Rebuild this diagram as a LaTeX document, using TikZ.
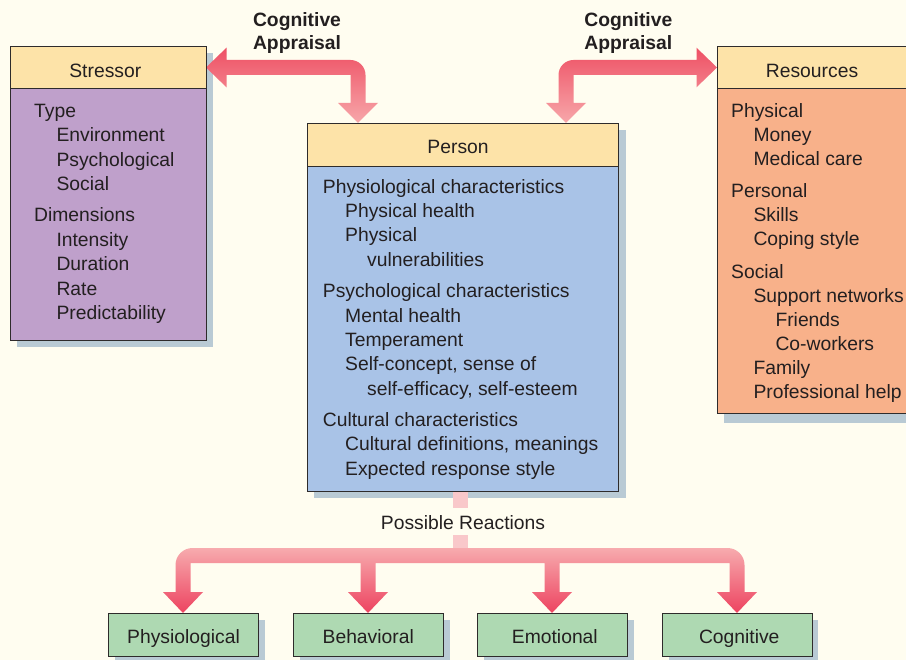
\documentclass[tikz,border=0pt]{standalone}
\usepackage{fontspec}
\setmainfont{Liberation Sans}
\usetikzlibrary{calc}
\definecolor{bg}{HTML}{FFFDF0}
\definecolor{bord}{HTML}{2E2B2B}
\definecolor{txt}{HTML}{231F20}
\definecolor{headc}{HTML}{FDE3A8}
\definecolor{purp}{HTML}{BFA0CB}
\definecolor{bluec}{HTML}{A9C3E7}
\definecolor{orangec}{HTML}{F8B18A}
\definecolor{greenc}{HTML}{AED9B2}
\definecolor{shadowc}{HTML}{B9CAD4}
\definecolor{arrA}{HTML}{EE5064}
\definecolor{arrB}{HTML}{F7A7AA}
\definecolor{arrC}{HTML}{F7ABAE}
\definecolor{arrD}{HTML}{ED4360}
\definecolor{stubc}{HTML}{F9C8CA}
\newcommand{\ia}{\hspace*{22.3pt}}
\newcommand{\ib}{\hspace*{44.3pt}}
\begin{document}
\begin{tikzpicture}[x=1pt,y=-1pt,
  box/.style={draw=bord, line width=1.1pt, rectangle, inner sep=0pt, anchor=north west, text=txt,
    font=\fontsize{19.3}{23}\selectfont},
  headbox/.style={box, fill=headc},
  reactbox/.style={box, fill=greenc, minimum width=150pt, minimum height=42.4pt, text height=17.4pt, text depth=1pt},
  bodytext/.style={anchor=base west, inner sep=0pt, text=txt},
  apptext/.style={anchor=base, inner sep=0pt, text=txt, font=\fontsize{19.3}{23}\selectfont\bfseries},
  shadowbox/.style={fill=shadowc}
]
\useasboundingbox (0,0) rectangle (906,660);
\clip (0,0) rectangle (906,660);
\fill[bg] (0,0) rectangle (906,660);

% shadows
\fill[shadowbox] (16.5,52.7) rectangle (213,347.3);
\fill[shadowbox] (314.3,130.3) rectangle (626,498);
\fill[shadowbox] (724.3,52.7) rectangle (925,423.3);
\fill[shadowbox] (115,620.3) rectangle (265,665);
\fill[shadowbox] (299.7,620.3) rectangle (449.7,665);
\fill[shadowbox] (484.3,620.3) rectangle (633.7,665);
\fill[shadowbox] (668.7,620.3) rectangle (818,665);

% top arrows
\shade[top color=arrA, bottom color=arrB]
  (206,67.5) -- (226.5,47.7) -- (226.5,60) -- (350.5,60)
  .. controls (358.8,60) and (365.5,66.7) .. (365.5,75)
  -- (365.5,103) -- (378,103) -- (358,122.8) -- (338,103) -- (350.5,103)
  -- (350.5,75) -- (226.5,75) -- (226.5,87.3) -- cycle;
\shade[top color=arrA, bottom color=arrB]
  (717,67.5) -- (696.5,47.7) -- (696.5,60) -- (573.5,60)
  .. controls (565.2,60) and (558.5,66.7) .. (558.5,75)
  -- (558.5,103) -- (546,103) -- (566,122.8) -- (586,103) -- (573.5,103)
  -- (573.5,75) -- (696.5,75) -- (696.5,87.3) -- cycle;

% bottom arrows
\fill[stubc] (453,490) rectangle (468,549);
\shade[top color=arrC, bottom color=arrD]
  (175.5,592) -- (175.5,565)
  .. controls (175.5,555.6) and (183.1,548) .. (192.5,548)
  -- (727.5,548)
  .. controls (736.9,548) and (744.5,555.6) .. (744.5,565)
  -- (744.5,592) -- (757,592) -- (737,613) -- (717,592) -- (729.5,592)
  -- (729.5,563) -- (559.5,563) -- (559.5,592) -- (572,592) -- (552,613) -- (532,592) -- (544.5,592)
  -- (544.5,563) -- (375.5,563) -- (375.5,592) -- (388,592) -- (368,613) -- (348,592) -- (360.5,592)
  -- (360.5,563) -- (190.5,563) -- (190.5,592) -- (203,592) -- (183,613) -- (163,592) -- cycle;

% boxes
\node[box, fill=purp, minimum width=196.5pt, minimum height=252.3pt] (sB) at (9.5,87.7) {};
\node[headbox, minimum width=196.5pt, minimum height=42pt, text height=21.6pt, text depth=1pt] (sH) at (9.5,45.7) {Stressor\hspace*{6pt}};
\node[box, fill=bluec, minimum width=311pt, minimum height=325pt] (pB) at (307.3,165.7) {};
\node[headbox, minimum width=311pt, minimum height=42.4pt, text height=17.4pt, text depth=1pt] (pH) at (307.3,123.3) {Person\hspace*{10.6pt}};
\node[box, fill=orangec, minimum width=200pt, minimum height=325.6pt] (rB) at (717.3,87.7) {};
\node[headbox, minimum width=200pt, minimum height=42pt, text height=21pt, text depth=1pt] (rH) at (717.3,45.7) {Resources\hspace*{11.6pt}};

\node[reactbox] (r1) at (108,613.3) {Physiological};
\node[reactbox] (r2) at (292.7,613.3) {Behavioral};
\node[reactbox] (r3) at (477.3,613.3) {\hspace*{4pt}Emotional};
\node[reactbox] (r4) at (661.7,613.3) {\hspace*{4pt}Cognitive};

% body texts
\node[bodytext] (sT) at (34,117.3) {\parbox[t]{170pt}{\fontsize{19.3}{24.45}\selectfont\raggedright
Type\\
\ia Environment\\
\ia Psychological\\
\ia Social\\[6.6pt]
Dimensions\\
\ia Intensity\\
\ia Duration\\
\ia Rate\\
\ia Predictability}};

\node[bodytext] (pT) at (322.7,193.3) {\parbox[t]{290pt}{\fontsize{19.3}{24.35}\selectfont\raggedright
Physiological characteristics\\
\ia Physical health\\
\ia Physical\\
\ib vulnerabilities\\[7.1pt]
Psychological characteristics\\
\ia Mental health\\
\ia Temperament\\
\ia Self-concept, sense of\\
\ib self-efficacy, self-esteem\\[6.8pt]
Cultural characteristics\\
\ia Cultural definitions, meanings\\
\ia Expected response style}};

\node[bodytext] (rT) at (731,117.3) {\parbox[t]{190pt}{\fontsize{19.3}{24}\selectfont\raggedright
Physical\\
\ia Money\\
\ia Medical care\\[8.4pt]
Personal\\
\ia Skills\\
\ia Coping style\\[8.7pt]
Social\\
\ia Support networks\\
\ib Friends\\
\ib Co-workers\\
\ia Family\\
\ia Professional help}};

% appraisal labels
\node[apptext] (ca1) at (297,26.7) {Cognitive};
\node[apptext] (ca2) at (297,50) {Appraisal};
\node[apptext] (cb1) at (628.3,26.7) {Cognitive};
\node[apptext] (cb2) at (628.3,50) {Appraisal};

% possible reactions label
\node[anchor=base, fill=bg, text=txt, inner xsep=2pt, inner ysep=0pt, text height=21pt, text depth=5.7pt,
  font=\fontsize{19.3}{23}\selectfont] (pr) at (463,529.3) {Possible Reactions};
\end{tikzpicture}
\end{document}
